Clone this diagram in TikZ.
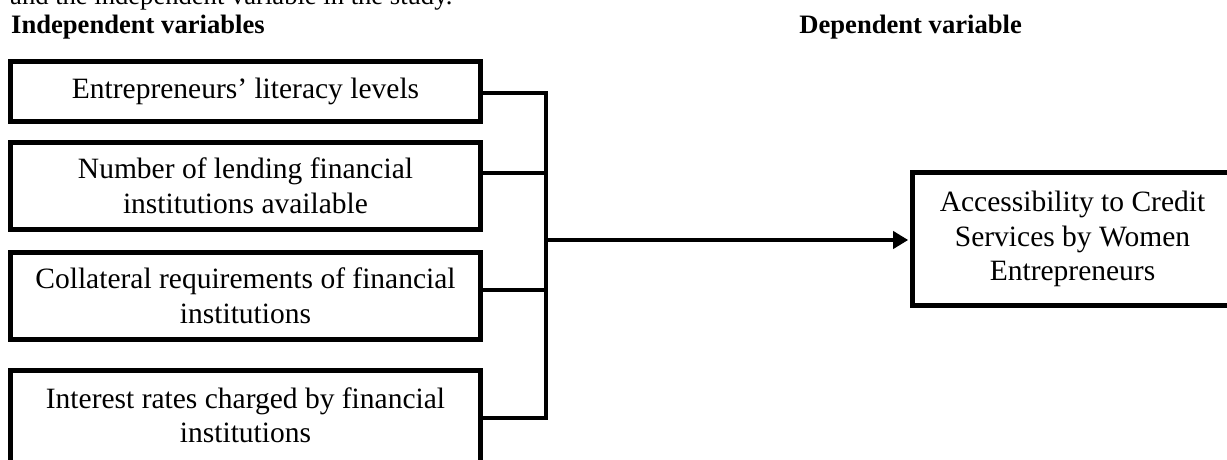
\documentclass[tikz,border=0pt]{standalone}
\usepackage{fontspec}
\setmainfont{Liberation Serif}
\usetikzlibrary{arrows.meta}
\tikzset{
  varbox/.style={draw=black, line width=4.6pt, minimum width=470pt, inner sep=0pt,
    align=center, font=\fontsize{29.5}{34.5}\selectfont},
  boxtext/.style={align=center, inner sep=0pt, font=\fontsize{29.5}{34.5}\selectfont},
  head/.style={inner sep=0pt, font=\fontsize{26.6}{30}\selectfont\bfseries},
  plain/.style={inner sep=0pt, font=\fontsize{26.6}{30}\selectfont},
  conn/.style={line width=4.2pt, line join=miter},
}
\begin{document}
\begin{tikzpicture}[x=1pt,y=-1pt]
\useasboundingbox (0,0) rectangle (1227,460);
\clip (0,0) rectangle (1227,460);
\fill[white] (0,0) rectangle (1227,460);

\node[plain, anchor=base west] (intro) at (10,4.5) {and the independent variable in the study.};
\node[head, anchor=base west] (hind) at (11,33.5) {Independent variables};
\node[head, anchor=base east] (hdep) at (1022,33.5) {Dependent variable};

\node[varbox, minimum height=60pt] (b1) at (245.5,91.5) {Entrepreneurs’ literacy levels};
\node[varbox, minimum height=87pt] (b2) at (245.5,186) {Number of lending financial\\institutions available};
\node[varbox, minimum height=87pt] (b3) at (245.5,296) {Collateral requirements of financial\\institutions};
\node[varbox, minimum height=100pt] (b4) at (245.5,420.5) {};
\node[boxtext] (b4t) at (245.5,415.5) {Interest rates charged by financial\\institutions};

\node[varbox, minimum width=320pt, minimum height=133pt] (rb) at (1072.5,239) {Accessibility to Credit\\Services by Women\\Entrepreneurs};

\coordinate (bt) at (546,93);
\coordinate (bb) at (546,418);
\coordinate (b2j) at (546,173);
\coordinate (b3j) at (546,290);
\coordinate (aj) at (546,240);

\draw[conn] (b1.east |- bt) -- (bt) -- (bb) -- (b4.east |- bb);
\draw[conn] (b2.east |- b2j) -- (b2j);
\draw[conn] (b3.east |- b3j) -- (b3j);
\draw[conn, -{Triangle[length=15pt,width=17pt]}, shorten >=2pt] (aj) -- (rb.west |- aj);
\end{tikzpicture}
\end{document}
